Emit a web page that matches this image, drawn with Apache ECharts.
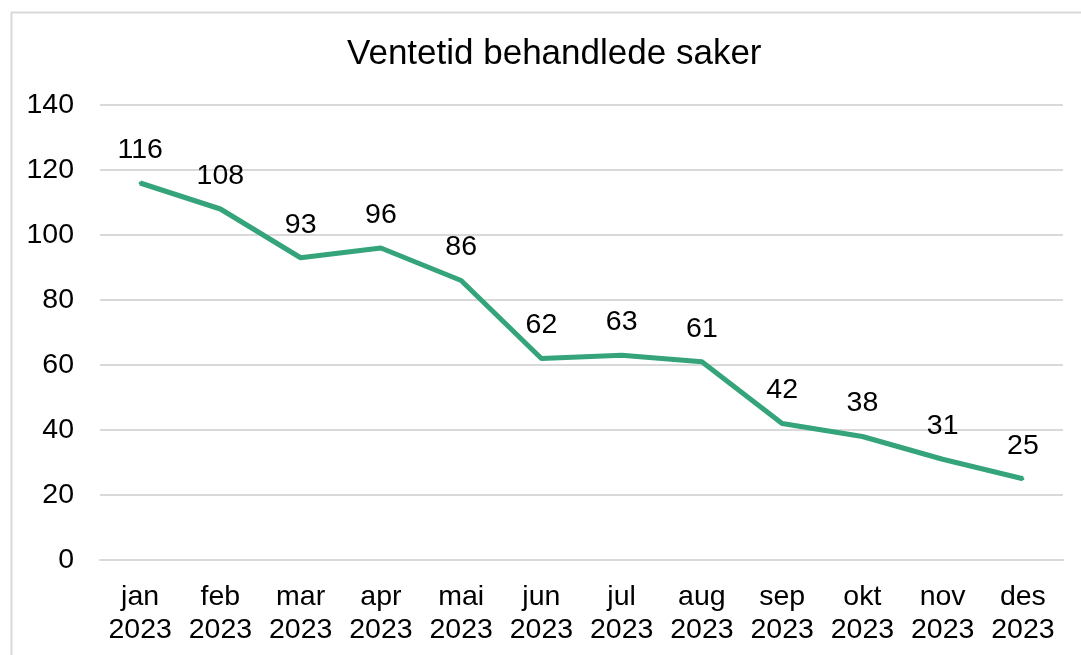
<!DOCTYPE html>
<html>
<head>
<meta charset="utf-8">
<script src="https://cdn.jsdelivr.net/npm/echarts@6/dist/echarts.min.js"></script>
<style>html,body{margin:0;padding:0;background:#fff}#c{width:1081px;height:655px}</style>
</head>
<body>
<div id="c"></div>
<script>
const categories = ['jan\n2023','feb\n2023','mar\n2023','apr\n2023','mai\n2023','jun\n2023','jul\n2023','aug\n2023','sep\n2023','okt\n2023','nov\n2023','des\n2023'];
const values = [116,108,93,96,86,62,63,61,42,38,31,25];
const titleText = 'Ventetid behandlede saker';

const chart = echarts.init(document.getElementById('c'));
const font = '"Liberation Sans", Arial, sans-serif';
chart.setOption({
  animation: false,
  backgroundColor: '#fff',
  graphic: [{
    type: 'rect', left: 9, top: 10, silent: true,
    shape: { width: 1100, height: 700 },
    style: { fill: 'none', stroke: '#d9d9d9', lineWidth: 2 }
  }],
  title: {
    text: titleText, left: 342, top: 32,
    textStyle: { fontFamily: font, fontSize: 35, fontWeight: 'normal', color: '#000' }
  },
  grid: { left: 100, right: 18, top: 105, bottom: 95 },
  xAxis: {
    type: 'category', data: categories, boundaryGap: true,
    axisLine: { show: true, lineStyle: { color: '#d9d9d9', width: 2 } },
    axisTick: { show: false },
    axisLabel: { color: '#000', fontFamily: font, fontSize: 28.5, margin: 21, lineHeight: 33, interval: 0 }
  },
  yAxis: {
    type: 'value', min: 0, max: 140, interval: 20,
    axisLine: { show: false }, axisTick: { show: false },
    splitLine: { lineStyle: { color: '#d9d9d9', width: 2 } },
    axisLabel: { color: '#000', fontFamily: font, fontSize: 28.5, margin: 26 }
  },
  series: [{
    type: 'line', data: values, symbol: 'circle', symbolSize: 3, showSymbol: true, showAllSymbol: true,
    itemStyle: { color: '#35A47A' },
    lineStyle: { color: '#35A47A', width: 5 },
    label: { show: true, position: 'top', distance: 17, color: '#000', fontFamily: font, fontSize: 28.5 },
    labelLayout: { hideOverlap: false }
  }]
});
</script>
</body>
</html>
